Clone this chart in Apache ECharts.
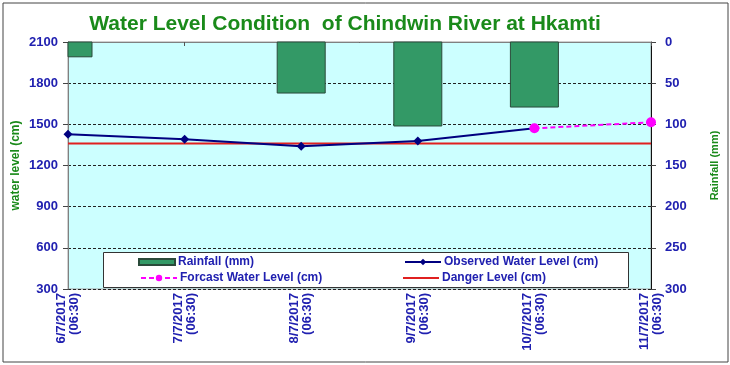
<!DOCTYPE html>
<html>
<head>
<meta charset="utf-8">
<script src="https://cdn.jsdelivr.net/npm/echarts@6/dist/echarts.min.js"></script>
<style>
html,body{margin:0;padding:0;background:#fff;}
#c{width:730px;height:365px;}
</style>
</head>
<body>
<div id="c"></div>
<script>
var categories = ['6/7/2017\n(06:30)', '7/7/2017\n(06:30)', '8/7/2017\n(06:30)', '9/7/2017\n(06:30)', '10/7/2017\n(06:30)', '11/7/2017\n(06:30)'];
var rainfall = [18, 0, 62, 102, 79, 0];
var observed = [1427, 1391, 1340, 1378, 1471, null];
var forecast = [null, null, null, null, 1471, 1515];
var danger = [1360, 1360, 1360, 1360, 1360, 1360];
var leftTicks = {min: 300, max: 2100, interval: 300};
var rightTicks = {min: 0, max: 300, interval: 50};

var blue = '#2020b0';
var green = '#1a8a1a';
var font = 'Liberation Sans, Arial, sans-serif';
var barColor = '#339966';
var barBorder = '#2a4a3a';

var chart = echarts.init(document.getElementById('c'), null, {renderer: 'canvas'});
function leg(name, left, top, icon, h) {
  return {
    data: [{name: name, icon: icon}],
    left: left, top: top, itemWidth: 36, itemHeight: h || 8, itemGap: 4,
    padding: 0, z: 20,
    textStyle: {color: blue, fontWeight: 'bold', fontSize: 12, fontFamily: font, padding: [0, 0, 0, -2]},
    selectedMode: false
  };
}
function renderBar(params, api) {
  var idx = api.value(0);
  var v = api.value(1);
  if (!v) return null;
  var top = api.coord([idx, 0]);
  var bot = api.coord([idx, v]);
  var w = 48;
  var rect = echarts.graphic.clipRectByRect(
    {x: top[0] - w / 2, y: Math.min(top[1], bot[1]), width: w, height: Math.abs(bot[1] - top[1])},
    {x: params.coordSys.x, y: params.coordSys.y, width: params.coordSys.width, height: params.coordSys.height}
  );
  if (!rect) return null;
  return {
    type: 'rect', shape: rect,
    style: {fill: barColor, stroke: barBorder, lineWidth: 1}
  };
}
var option = {
  animation: false,
  backgroundColor: '#ffffff',
  title: {
    text: 'Water Level Condition  of Chindwin River at Hkamti',
    left: 340, top: 9, textAlign: 'center',
    textStyle: {color: green, fontSize: 21, fontWeight: 'bold', fontFamily: font}
  },
  graphic: [
    {type: 'rect', shape: {x: 3, y: 3, width: 725, height: 359}, style: {fill: 'none', stroke: '#444', lineWidth: 1}, z: 0, silent: true},
    {type: 'rect', shape: {x: 103.5, y: 252.5, width: 525, height: 35}, style: {fill: '#ffffff', stroke: '#333', lineWidth: 1}, z: 15, silent: true}
  ],
  legend: [
    leg('Rainfall (mm)', 138, 256, 'rect', 6),
    leg('Observed Water Level (cm)', 404, 256),
    leg('Forcast Water Level (cm)', 140, 272),
    leg('Danger Level (cm)', 403, 272, 'path://M0,0H40V2H0Z', 2)
  ],
  grid: {
    left: 68, right: 79, top: 42, bottom: 76, outerBoundsMode: 'none', containLabel: false,
    show: true, backgroundColor: '#ccffff', borderColor: '#a0a0a0', borderWidth: 1
  },
  xAxis: {
    type: 'category', data: categories, boundaryGap: false,
    axisLine: {lineStyle: {color: '#808080', width: 1}},
    axisTick: {show: true, alignWithLabel: true, length: 4, lineStyle: {color: '#555'}},
    axisLabel: {rotate: 90, margin: 4, color: blue, fontWeight: 'bold', fontSize: 13, fontFamily: font, lineHeight: 13, interval: 0, align: 'right', verticalAlign: 'middle'},
    splitLine: {show: false}
  },
  yAxis: [
    {
      type: 'value', min: leftTicks.min, max: leftTicks.max, interval: leftTicks.interval,
      name: 'water level (cm)', nameLocation: 'middle', nameGap: 46, nameRotate: 90, nameMoveOverlap: false,
      nameTextStyle: {color: green, fontWeight: 'bold', fontSize: 12, fontFamily: font},
      axisLine: {show: true, lineStyle: {color: '#808080'}},
      axisTick: {show: true, length: 5, lineStyle: {color: '#444'}},
      axisLabel: {color: blue, fontWeight: 'bold', fontSize: 13, fontFamily: font, margin: 10, formatter: function (v) { return String(v); }},
      splitLine: {show: true, lineStyle: {color: '#222', type: [3, 2], width: 1}}
    },
    {
      type: 'value', min: rightTicks.min, max: rightTicks.max, interval: rightTicks.interval, inverse: true,
      position: 'right',
      name: 'Rainfall (mm)', nameLocation: 'middle', nameGap: 58, nameRotate: 90, nameMoveOverlap: false,
      nameTextStyle: {color: green, fontWeight: 'bold', fontSize: 11, fontFamily: font},
      axisLine: {show: true, lineStyle: {color: '#111'}},
      axisTick: {show: true, length: 5, inside: false, lineStyle: {color: '#444'}},
      axisLabel: {color: blue, fontWeight: 'bold', fontSize: 13, fontFamily: font, margin: 14, formatter: function (v) { return String(v); }},
      splitLine: {show: false}
    }
  ],
  series: [
    {
      name: 'Rainfall (mm)', type: 'custom', yAxisIndex: 1,
      data: rainfall.map(function (v, i) { return [i, v]; }),
      encode: {x: 0, y: 1},
      renderItem: renderBar,
      itemStyle: {color: barColor, borderColor: barBorder, borderWidth: 1}, z: 2
    },
    {
      name: 'Danger Level (cm)', type: 'line', data: danger, symbol: 'none',
      lineStyle: {color: '#e02020', width: 2}, itemStyle: {color: '#e02020'}, z: 4
    },
    {
      name: 'Observed Water Level (cm)', type: 'line', data: observed, symbol: 'diamond', symbolSize: 9,
      lineStyle: {color: '#000080', width: 2}, itemStyle: {color: '#000080'}, z: 5
    },
    {
      name: 'Forcast Water Level (cm)', type: 'line', data: forecast, symbol: 'circle', symbolSize: 10,
      lineStyle: {color: '#ff00ff', width: 2, type: [5, 3]}, itemStyle: {color: '#ff00ff'}, z: 6
    }
  ]
};
chart.setOption(option);
</script>
</body>
</html>
